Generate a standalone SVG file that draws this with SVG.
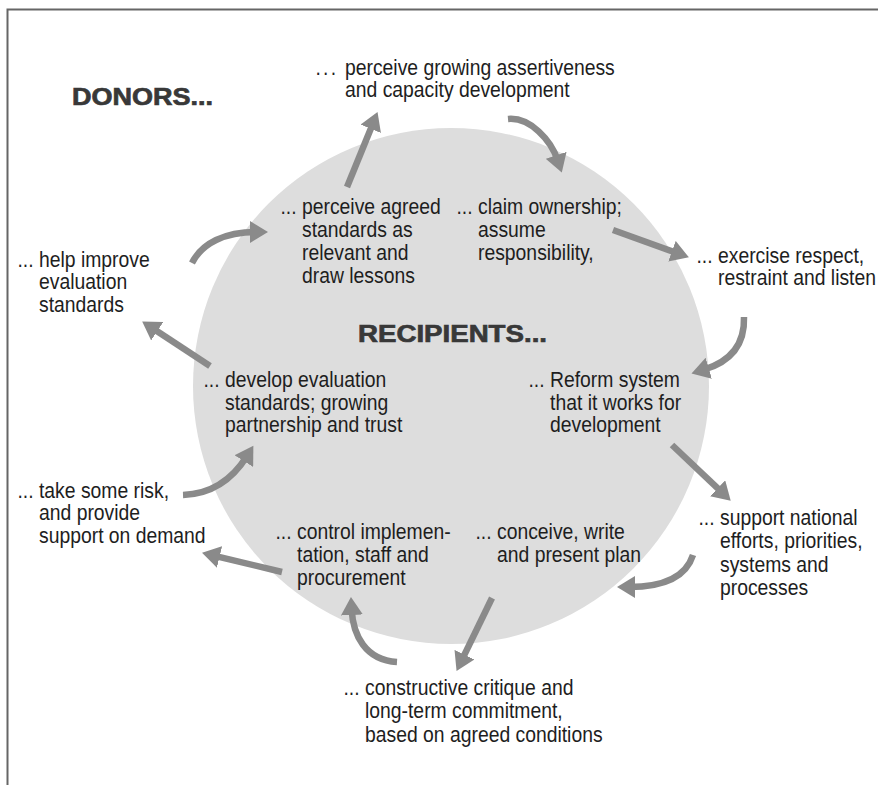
<svg xmlns="http://www.w3.org/2000/svg" width="878" height="785" viewBox="0 0 878 785">
<style>
.t{font-family:"Liberation Sans",Arial,sans-serif;font-size:21.5px;fill:#1e1e1e}
.h{font-family:"Liberation Sans",Arial,sans-serif;font-size:24px;font-weight:bold;fill:#383838;stroke:#383838;stroke-width:0.7}
.a{fill:none;stroke:#8a8a8a;stroke-width:6.5;marker-end:url(#head)}
</style>
<defs>
<marker id="head" markerUnits="userSpaceOnUse" markerWidth="20" markerHeight="22" refX="6" refY="11" orient="auto">
<path d="M0,0 L18,11 L0,22 z" fill="#8a8a8a"/>
</marker>
</defs>
<rect width="878" height="785" fill="#ffffff"/>
<path d="M7.5,785 V9.5 H878" fill="none" stroke="#666666" stroke-width="2"/>
<g id="recipients-circle"><circle cx="451" cy="386" r="258" fill="#dddddd"/></g>

<g id="connectors">
<path class="a" d="M347,187 L373,123.2"/>
<path class="a" d="M508,119 C530,117 551,140 558,161"/>
<path class="a" d="M613,230 L677.6,253.3"/>
<path class="a" d="M744,317 C745,345 730,362 703,370"/>
<path class="a" d="M672,445 L722,492.4"/>
<path class="a" d="M693,555 C686,577 665,587 629,587"/>
<path class="a" d="M492,598 L461.8,660.1"/>
<path class="a" d="M397,662 C365,660 353,635 351.6,609"/>
<path class="a" d="M282,572 L213.7,555.6"/>
<path class="a" d="M183,495 C212,494 232,480 247,456"/>
<path class="a" d="M210,366 L152.2,328"/>
<path class="a" d="M192,263 C202,243 225,232 256,232"/>
</g>

<g id="heading-donors"><text class="h" x="72" y="105" textLength="141" lengthAdjust="spacingAndGlyphs">DONORS...</text></g>
<g id="heading-recipients"><text class="h" x="358" y="342" textLength="189" lengthAdjust="spacingAndGlyphs">RECIPIENTS...</text></g>

<g id="n-perceive-assertiveness" transform="matrix(0.9,0,0,1,323.5,0)">
<text class="t" y="75"><tspan x="-9" letter-spacing="2.5">... </tspan><tspan x="23.9">perceive growing assertiveness</tspan></text>
<text class="t" x="23.9" y="97">and capacity development</text>
</g>
<g id="n-perceive-standards" transform="matrix(0.9,0,0,1,280.5,0)">
<text class="t" x="0" y="214">... perceive agreed</text>
<text class="t" x="23.9" y="237">standards as</text>
<text class="t" x="23.9" y="260">relevant and</text>
<text class="t" x="23.9" y="283">draw lessons</text>
</g>
<g id="n-claim-ownership" transform="matrix(0.9,0,0,1,456.5,0)">
<text class="t" x="0" y="214">... claim ownership;</text>
<text class="t" x="23.9" y="237">assume</text>
<text class="t" x="23.9" y="260">responsibility,</text>
</g>
<g id="n-exercise-respect" transform="matrix(0.9,0,0,1,696.5,0)">
<text class="t" x="0" y="263">... exercise respect,</text>
<text class="t" x="23.9" y="285">restraint and listen</text>
</g>
<g id="n-help-improve" transform="matrix(0.9,0,0,1,17.5,0)">
<text class="t" x="0" y="267">... help improve</text>
<text class="t" x="23.9" y="289">evaluation</text>
<text class="t" x="23.9" y="312">standards</text>
</g>
<g id="n-develop-standards" transform="matrix(0.9,0,0,1,203.5,0)">
<text class="t" x="0" y="387">... develop evaluation</text>
<text class="t" x="23.9" y="410">standards; growing</text>
<text class="t" x="23.9" y="432">partnership and trust</text>
</g>
<g id="n-reform-system" transform="matrix(0.9,0,0,1,528.5,0)">
<text class="t" x="0" y="387">... Reform system</text>
<text class="t" x="23.9" y="410">that it works for</text>
<text class="t" x="23.9" y="432">development</text>
</g>
<g id="n-support-national" transform="matrix(0.9,0,0,1,698.5,0)">
<text class="t" x="0" y="525">... support national</text>
<text class="t" x="23.9" y="548">efforts, priorities,</text>
<text class="t" x="23.9" y="572">systems and</text>
<text class="t" x="23.9" y="595">processes</text>
</g>
<g id="n-conceive-plan" transform="matrix(0.9,0,0,1,475.5,0)">
<text class="t" x="0" y="539">... conceive, write</text>
<text class="t" x="23.9" y="562">and present plan</text>
</g>
<g id="n-control-implementation" transform="matrix(0.9,0,0,1,275.5,0)">
<text class="t" x="0" y="539">... control implemen-</text>
<text class="t" x="23.9" y="562">tation, staff and</text>
<text class="t" x="23.9" y="585">procurement</text>
</g>
<g id="n-take-risk" transform="matrix(0.9,0,0,1,17.5,0)">
<text class="t" x="0" y="498">... take some risk,</text>
<text class="t" x="23.9" y="520">and provide</text>
<text class="t" x="23.9" y="543">support on demand</text>
</g>
<g id="n-constructive-critique" transform="matrix(0.9,0,0,1,343.5,0)">
<text class="t" x="0" y="695">... constructive critique and</text>
<text class="t" x="23.9" y="718">long-term commitment,</text>
<text class="t" x="23.9" y="742">based on agreed conditions</text>
</g>
</svg>
